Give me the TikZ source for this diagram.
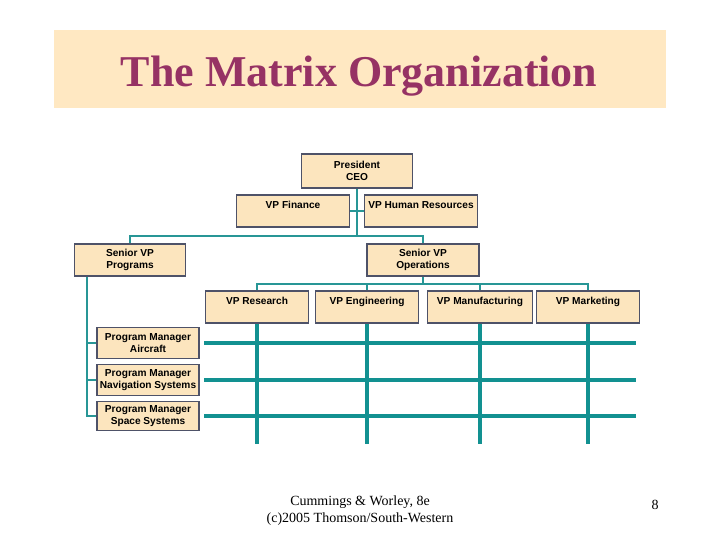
\documentclass[tikz,border=0pt]{standalone}
\usepackage{fontspec}
\setmainfont{Liberation Serif}
\newfontfamily\orgfont{Liberation Sans}
\usepackage{tikz}
\usetikzlibrary{positioning}
\definecolor{bandpeach}{RGB}{255,232,194}
\definecolor{boxpeach}{RGB}{252,229,190}
\definecolor{boxedge}{RGB}{78,82,104}
\definecolor{titlemaroon}{RGB}{150,50,100}
\definecolor{linkteal}{RGB}{40,150,150}
\definecolor{gridteal}{RGB}{18,145,145}
\tikzset{
  org/.style    ={draw=boxedge, fill=boxpeach, line width=0.9pt, align=center,
                  font=\orgfont\bfseries\fontsize{7.6}{9}\selectfont, inner sep=0pt,
                  minimum height=24pt},
  link/.style   ={draw=linkteal, line width=1.4pt},
  matrixln/.style={draw=gridteal, line width=2.6pt},
}

\begin{document}
\begin{tikzpicture}[x=0.75pt,y=-0.75pt]
\useasboundingbox (0,0) rectangle (720,540);

% title band
\fill[bandpeach] (54,30) rectangle (666,108);
\node[font=\bfseries\fontsize{33}{36}\selectfont, text=titlemaroon, anchor=base] (title) at (359,86) {The Matrix Organization};

% top of the hierarchy
\node[org, minimum width=83pt, minimum height=25.5pt] (ceo) at (357,171) {President\\CEO};
\node[org, minimum width=85pt] (fin) at (293,211) {VP Finance\\\mbox{}};
\node[org, minimum width=85pt] (hr)  at (421,211) {VP Human Resources\\\mbox{}};
\node[org, minimum width=83pt] (svpprog) at (130,260) {Senior VP\\Programs};
\node[org, minimum width=84pt] (svpops)  at (423,260) {Senior VP\\Operations};

% functional VPs
\node[org, minimum width=77pt] (res) at (257,307) {VP Research\\\mbox{}};
\node[org, minimum width=77pt] (eng) at (367,307) {VP Engineering\\\mbox{}};
\node[org, minimum width=79pt] (man) at (480,307) {VP Manufacturing\\\mbox{}};
\node[org, minimum width=77pt] (mkt) at (588,307) {VP Marketing\\\mbox{}};

% program managers
\node[org, minimum width=76.5pt, minimum height=23pt] (pmair)   at (148,343) {Program Manager\\Aircraft};
\node[org, minimum width=76.5pt, minimum height=23pt] (pmnav)   at (148,380) {Program Manager\\Navigation Systems};
\node[org, minimum width=76.5pt, minimum height=22pt] (pmspace) at (148,416) {Program Manager\\Space Systems};

% reporting lines
\coordinate (spine) at (357,236);
\coordinate (opsbar) at (423,284);
\coordinate (progline) at (87,0);
\draw[link] (ceo.south) -- (spine);
\draw[link] (fin.east) -- (hr.west);
\draw[link] (svpprog.north) |- (spine) -| (svpops.north);
\draw[link] (svpops.south) -- (opsbar);
\draw[link] (res.north) |- (opsbar) -| (mkt.north);
\draw[link] (eng.north) -- (eng.north |- opsbar);
\draw[link] (man.north) -- (man.north |- opsbar);
\draw[link] (progline |- svpprog.south) |- (pmspace.west);
\foreach \pm in {pmair,pmnav}{
  \draw[link] (progline |- \pm.west) -- (\pm.west);
}

% the matrix
\coordinate (gridL) at (204,0);
\coordinate (gridR) at (636,0);
\coordinate (gridB) at (0,444);
\foreach \vp in {res,eng,man,mkt}{
  \draw[matrixln] (\vp.south) -- (\vp.south |- gridB);
}
\foreach \pm in {pmair,pmnav,pmspace}{
  \draw[matrixln] (gridL |- \pm) -- (gridR |- \pm);
}

% footer
\node[font=\fontsize{10.5}{12.75}\selectfont, align=center, anchor=north, inner sep=0pt] (credit) at (360,496)
  {Cummings \& Worley, 8e\\(c)2005 Thomson/South-Western};
\node[font=\fontsize{10.5}{12}\selectfont, anchor=base] (pagenum) at (655,509) {8};
\end{tikzpicture}
\end{document}
